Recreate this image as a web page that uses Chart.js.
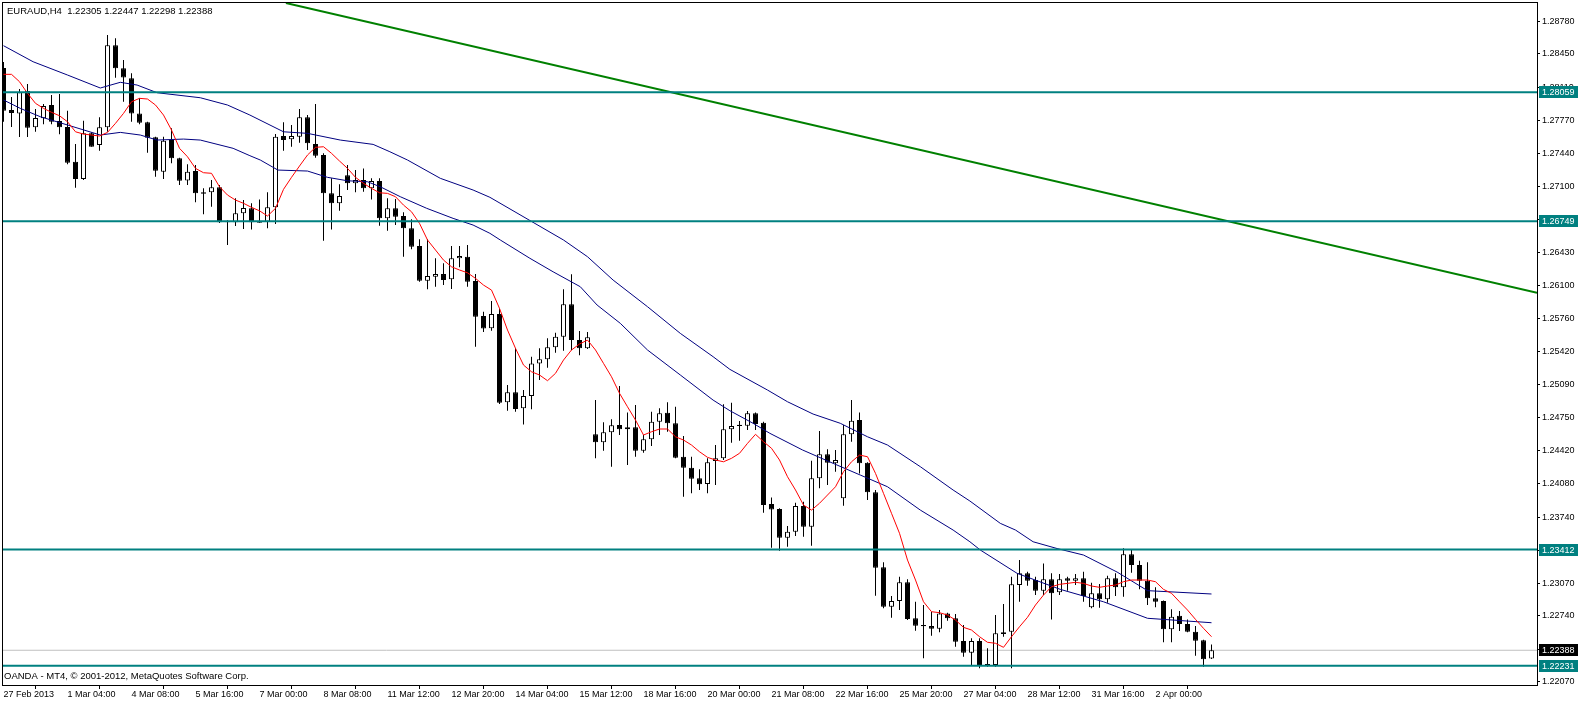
<!DOCTYPE html>
<html>
<head>
<meta charset="utf-8">
<title>EURAUD,H4</title>
<script src="https://cdn.jsdelivr.net/npm/chart.js@4.4.1/dist/chart.umd.min.js"></script>
<style>
  html, body { margin: 0; padding: 0; background: #fff; }
  canvas { display: block; }
</style>
</head>
<body>
<canvas id="euraud-chart" width="1578" height="702"></canvas>
<script>
  // H4 bars, first bar 27 Feb 2013 20:00
  const opens = [1.28306,1.27879,1.27845,1.28072,1.27703,1.27795,1.27930,1.27767,1.27706,1.27354,
    1.27178,1.27642,1.27523,1.27703,1.28537,1.28303,1.28201,1.27845,1.27754,1.27602,
    1.27252,1.27574,1.27388,1.27164,1.27259,1.27043,1.27043,1.27093,1.26751,1.26738,
    1.26829,1.26880,1.26744,1.26744,1.26890,1.27615,1.27581,1.27608,1.27805,1.27533,
    1.27422,1.27032,1.26931,1.27215,1.27134,1.27168,1.27083,1.27157,1.26778,1.26880,
    1.26802,1.26677,1.26497,1.26144,1.26185,1.26212,1.26158,1.26372,1.26388,1.26141,
    1.25785,1.25660,1.25806,1.24908,1.25010,1.24847,1.24972,1.25304,1.25345,1.25467,
    1.25575,1.25904,1.25541,1.25457,1.24583,1.24502,1.24603,1.24677,1.24634,1.24654,
    1.24416,1.24532,1.24711,1.24802,1.24695,1.24355,1.24243,1.24136,1.24078,1.24311,
    1.24339,1.24634,1.24680,1.24670,1.24796,1.24701,1.23874,1.23824,1.23532,1.23593,
    1.23854,1.23644,1.24136,1.24380,1.24288,1.23932,1.24583,1.24728,1.24294,1.23993,
    1.23231,1.22831,1.22888,1.23079,1.22713,1.22645,1.22634,1.22607,1.22763,1.22713,
    1.22482,1.22363,1.22482,1.22248,1.22238,1.22570,1.22576,1.23051,1.23170,1.23102,
    1.22993,1.23109,1.22977,1.23119,1.23095,1.23119,1.22824,1.22967,1.22906,1.23119,
    1.23028,1.23363,1.23254,1.23095,1.22916,1.22888,1.22601,1.22739,1.22655,1.22576,
    1.22489,1.22305];
  const highs = [1.28367,1.28011,1.28092,1.28143,1.27889,1.27940,1.28031,1.28042,1.27872,1.27533,
    1.27770,1.27652,1.27805,1.28641,1.28608,1.28387,1.28252,1.27998,1.27760,1.27608,
    1.27608,1.27693,1.27394,1.27327,1.27320,1.27083,1.27168,1.27117,1.26760,1.26982,
    1.26964,1.26931,1.26971,1.27043,1.27635,1.27754,1.27727,1.27889,1.27828,1.27940,
    1.27439,1.27185,1.27124,1.27320,1.27269,1.27286,1.27185,1.27185,1.26982,1.26974,
    1.26839,1.26768,1.26565,1.26565,1.26372,1.26321,1.26497,1.26497,1.26507,1.26212,
    1.25829,1.25938,1.25861,1.25084,1.25457,1.25033,1.25372,1.25457,1.25559,1.25616,
    1.26057,1.26209,1.25633,1.25623,1.24931,1.24705,1.24735,1.25074,1.24806,1.24881,
    1.24576,1.24812,1.24847,1.24908,1.24863,1.24566,1.24355,1.24227,1.24339,1.24474,
    1.24888,1.24904,1.24718,1.24820,1.24806,1.24710,1.23942,1.23831,1.23651,1.23888,
    1.23898,1.24314,1.24616,1.24430,1.24423,1.24677,1.24931,1.24806,1.24300,1.24017,
    1.23282,1.22939,1.23135,1.23109,1.22881,1.22848,1.22780,1.22797,1.22770,1.22756,
    1.22645,1.22509,1.22509,1.22408,1.22746,1.22858,1.23135,1.23305,1.23186,1.23135,
    1.23271,1.23170,1.23163,1.23135,1.23163,1.23186,1.23075,1.23061,1.23146,1.23170,
    1.23424,1.23417,1.23298,1.23282,1.23028,1.22895,1.22804,1.22787,1.22702,1.22634,
    1.22495,1.22447];
  const lows = [1.27760,1.27706,1.27605,1.27605,1.27658,1.27734,1.27734,1.27632,1.27327,1.27089,
    1.27168,1.27506,1.27465,1.27658,1.28207,1.27963,1.27760,1.27734,1.27445,1.27201,
    1.27178,1.27337,1.27117,1.27117,1.26941,1.26819,1.26896,1.26730,1.26507,1.26700,
    1.26669,1.26666,1.26734,1.26677,1.26720,1.27465,1.27506,1.27547,1.27472,1.27394,
    1.26551,1.26666,1.26855,1.27066,1.27043,1.27049,1.26971,1.26703,1.26652,1.26710,
    1.26388,1.26463,1.26134,1.26057,1.26083,1.26100,1.26060,1.26280,1.26083,1.25473,
    1.25623,1.25636,1.24891,1.24823,1.24812,1.24684,1.24837,1.25135,1.25260,1.25412,
    1.25433,1.25440,1.25386,1.25450,1.24339,1.24416,1.24254,1.24576,1.24271,1.24355,
    1.24396,1.24464,1.24576,1.24609,1.24340,1.23949,1.23983,1.24017,1.23983,1.24068,
    1.24322,1.24497,1.24518,1.24627,1.24627,1.23786,1.23430,1.23400,1.23440,1.23549,
    1.23542,1.23451,1.24034,1.24068,1.24203,1.23857,1.24508,1.24186,1.23915,1.22942,
    1.22814,1.22719,1.22797,1.22695,1.22587,1.22306,1.22536,1.22570,1.22688,1.22424,
    1.22322,1.22238,1.22204,1.22221,1.22221,1.22526,1.22204,1.22881,1.23044,1.22949,
    1.22949,1.22702,1.22949,1.22993,1.23051,1.22881,1.22814,1.22820,1.22871,1.22939,
    1.22932,1.23176,1.23007,1.22848,1.22824,1.22469,1.22469,1.22583,1.22570,1.22332,
    1.22221,1.22298];
  const closes = [1.27872,1.27849,1.28059,1.27699,1.27798,1.27920,1.27760,1.27703,1.27343,1.27178,
    1.27642,1.27506,1.27703,1.28537,1.28303,1.28211,1.27845,1.27750,1.27597,1.27262,
    1.27567,1.27388,1.27160,1.27252,1.27032,1.27028,1.27093,1.26738,1.26738,1.26829,
    1.26883,1.26738,1.26734,1.26890,1.27608,1.27574,1.27615,1.27805,1.27541,1.27415,
    1.27032,1.26931,1.27005,1.27134,1.27168,1.27083,1.27157,1.26778,1.26880,1.26795,
    1.26677,1.26490,1.26144,1.26192,1.26212,1.26151,1.26372,1.26395,1.26134,1.25778,
    1.25658,1.25806,1.24904,1.25010,1.24840,1.24972,1.25304,1.25345,1.25467,1.25575,
    1.25904,1.25541,1.25457,1.25569,1.24502,1.24603,1.24674,1.24634,1.24654,1.24416,
    1.24532,1.24711,1.24796,1.24695,1.24345,1.24243,1.24132,1.24075,1.24298,1.24339,
    1.24634,1.24667,1.24667,1.24796,1.24687,1.23864,1.23820,1.23532,1.23593,1.23854,
    1.23644,1.24136,1.24380,1.24294,1.24322,1.24583,1.24721,1.24288,1.23993,1.23227,
    1.22831,1.22888,1.23079,1.22706,1.22637,1.22631,1.22607,1.22763,1.22713,1.22475,
    1.22363,1.22482,1.22238,1.22235,1.22560,1.22553,1.23058,1.23170,1.23095,1.22993,
    1.23109,1.22967,1.23109,1.23095,1.23119,1.22939,1.22967,1.22906,1.23119,1.23028,
    1.23363,1.23254,1.23095,1.22916,1.22881,1.22601,1.22729,1.22655,1.22576,1.22485,
    1.22296,1.22388];

  // red moving average, one value per bar
  const fastMa = [1.28242,1.28242,1.28167,1.28049,1.27947,1.27896,1.27856,1.27821,1.27760,1.27658,
    1.27635,1.27625,1.27615,1.27652,1.27744,1.27845,1.27963,1.27998,1.27991,1.27930,
    1.27828,1.27676,1.27490,1.27404,1.27286,1.27242,1.27236,1.27099,1.27015,1.26964,
    1.26931,1.26890,1.26855,1.26802,1.26880,1.27073,1.27195,1.27310,1.27422,1.27500,
    1.27506,1.27439,1.27361,1.27286,1.27195,1.27134,1.27083,1.27038,1.27032,1.26998,
    1.26913,1.26845,1.26727,1.26558,1.26456,1.26354,1.26286,1.26253,1.26225,1.26168,
    1.26100,1.26049,1.25863,1.25643,1.25457,1.25287,1.25219,1.25186,1.25128,1.25203,
    1.25338,1.25440,1.25501,1.25541,1.25440,1.25304,1.25168,1.25000,1.24863,1.24728,
    1.24576,1.24609,1.24637,1.24637,1.24558,1.24525,1.24474,1.24406,1.24349,1.24322,
    1.24304,1.24339,1.24390,1.24491,1.24583,1.24508,1.24441,1.24322,1.24152,1.24017,
    1.23864,1.23813,1.23882,1.23966,1.24050,1.24203,1.24304,1.24372,1.24355,1.24186,
    1.23983,1.23780,1.23577,1.23305,1.23102,1.22881,1.22780,1.22770,1.22746,1.22695,
    1.22621,1.22594,1.22526,1.22469,1.22459,1.22418,1.22526,1.22627,1.22723,1.22848,
    1.22949,1.23034,1.23058,1.23068,1.23079,1.23068,1.23041,1.23028,1.23041,1.23051,
    1.23085,1.23102,1.23102,1.23102,1.23085,1.23007,1.22967,1.22881,1.22797,1.22702,
    1.22611,1.22526];

  // navy moving averages, read as [bar, price]
  const slowMa = [[0,1.28533],[3.7,1.28370],[8,1.28235],[12.1,1.28103],[14.6,1.28161],[16.7,1.28133],
    [19.2,1.28055],[24.6,1.28004],[28,1.27930],[30.8,1.27828],[35,1.27658],[38,1.27642],[42.1,1.27574],
    [46.2,1.27530],[48.3,1.27455],[50.5,1.27371],[54.6,1.27185],[58.7,1.27066],[60.8,1.26992],[70,1.26558],
    [73,1.26388],[76.2,1.26151],[80.5,1.25880],[84.6,1.25609],[88.7,1.25372],[90.8,1.25243],[95.5,1.25033],
    [98,1.24914],[101.2,1.24789],[104.6,1.24695],[108,1.24558],[110.5,1.24474],[114.6,1.24254],[118.7,1.24017],
    [120.8,1.23905],[124.6,1.23678],[126.5,1.23610],[128.7,1.23491],[131.7,1.23422],[135,1.23356],
    [139.2,1.23183],[143,1.22994],[151,1.22960]];
  const midMa = [[0,1.27981],[2.1,1.27896],[4.6,1.27811],[8,1.27727],[12.1,1.27625],[14.6,1.27652],
    [17.1,1.27625],[19.2,1.27574],[22.5,1.27584],[24.6,1.27574],[28.7,1.27490],[30.8,1.27415],[32.1,1.27371],
    [34.3,1.27269],[38,1.27259],[40.5,1.27195],[43,1.27160],[45.5,1.27150],[47.1,1.27099],[49.6,1.26998],
    [52.9,1.26880],[56.2,1.26778],[58.7,1.26710],[60.8,1.26626],[62.1,1.26558],[65.8,1.26372],[68.7,1.26235],
    [72.1,1.26083],[74.2,1.25897],[77.1,1.25711],[80.5,1.25440],[84.6,1.25186],[88.7,1.24931],[90.8,1.24823],
    [93.7,1.24695],[95.8,1.24593],[99.9,1.24423],[103.7,1.24288],[107.1,1.24169],[110.5,1.24050],
    [114.6,1.23813],[118.7,1.23610],[120.8,1.23491],[122.1,1.23407],[126.7,1.23170],[132.1,1.23007],
    [137.5,1.22881],[143,1.22713],[151,1.22668]];

  const levels = [1.28059, 1.26749, 1.23412, 1.22231];
  const bidPrice = 1.22388;
  const trendLine = [[35.3, 1.28967], [191.69, 1.26022]];

  const xTickLabels = ['27 Feb 2013','1 Mar 04:00','4 Mar 08:00','5 Mar 16:00','7 Mar 00:00','8 Mar 08:00',
    '11 Mar 12:00','12 Mar 20:00','14 Mar 04:00','15 Mar 12:00','18 Mar 16:00','20 Mar 00:00',
    '21 Mar 08:00','22 Mar 16:00','25 Mar 20:00','27 Mar 04:00','28 Mar 12:00','31 Mar 16:00','2 Apr 00:00'];
  const yTickValues = [1.28780,1.28450,1.28110,1.27770,1.27440,1.27100,1.26770,1.26430,1.26100,1.25760,
    1.25420,1.25090,1.24750,1.24420,1.24080,1.23740,1.23400,1.23070,1.22740,1.22400,1.22070];

  const X_MIN = -0.0625, X_MAX = 191.6875;
  const FONT = '"Liberation Sans", Arial, sans-serif';

  Chart.defaults.font.family = FONT;
  Chart.defaults.font.size = 9;
  Chart.defaults.color = '#000';

  // helpers for line datasets
  function flatLine(price) {
    return [{x: X_MIN, y: price}, {x: X_MAX, y: price}];
  }
  function lineSet(data, color, width, order) {
    return {
      type: 'line',
      data: data,
      borderColor: color,
      borderWidth: width,
      pointRadius: 0,
      tension: 0,
      fill: false,
      order: order
    };
  }

  // frame, texts and price labels on the axis
  const mt4Decor = {
    id: 'mt4Decor',
    afterDraw(chart) {
      const ctx = chart.ctx;
      const area = chart.chartArea;
      const yScale = chart.scales.y;
      ctx.save();
      ctx.strokeStyle = '#000';
      ctx.lineWidth = 1;
      ctx.strokeRect(area.left - 0.5, area.top - 0.5, area.right - area.left + 1, area.bottom - area.top + 1);

      ctx.fillStyle = '#000';
      ctx.textBaseline = 'alphabetic';
      ctx.font = '9.5px ' + FONT;
      ctx.fillText('EURAUD,H4  1.22305 1.22447 1.22298 1.22388', 7, 14);
      ctx.font = '9.5px ' + FONT;
      ctx.fillText('OANDA - MT4, \u00a9 2001-2012, MetaQuotes Software Corp.', 4, 679);

      ctx.font = '9px ' + FONT;
      ctx.textBaseline = 'middle';
      const boxes = levels.map(v => [v, '#008080']).concat([[bidPrice, '#000000']]);
      boxes.forEach(function(b) {
        const y = Math.round(yScale.getPixelForValue(b[0]));
        ctx.fillStyle = b[1];
        ctx.fillRect(area.right + 2, y - 6, 40, 12);
        ctx.fillStyle = '#fff';
        ctx.fillText(b[0].toFixed(5), area.right + 5, y + 0.5);
      });
      ctx.restore();
    }
  };

  const el = document.getElementById('euraud-chart');
  const euraudChart = new Chart(el, {
    type: 'bar',
    data: {
      datasets: [
        lineSet(flatLine(bidPrice), '#c0c0c0', 1, 9),
        {
          label: 'wicks',
          data: lows.map((l, i) => ({x: i, y: [l, highs[i]]})),
          backgroundColor: '#000',
          borderWidth: 0,
          barThickness: 1,
          grouped: false,
          inflateAmount: 0,
          order: 8
        },
        {
          label: 'bodies',
          data: opens.map((o, i) => ({x: i, y: [o, closes[i]]})),
          backgroundColor: opens.map((o, i) => closes[i] >= o ? '#ffffff' : '#000000'),
          borderColor: '#000',
          borderWidth: 1,
          borderSkipped: false,
          barThickness: 5,
          grouped: false,
          inflateAmount: 0,
          order: 7
        },
        lineSet(slowMa.map(p => ({x: p[0], y: p[1]})), '#000080', 1, 6),
        lineSet(midMa.map(p => ({x: p[0], y: p[1]})), '#000080', 1, 5),
        lineSet(fastMa.map((v, i) => ({x: i, y: v})), '#ff0000', 1, 4),
        lineSet(trendLine.map(p => ({x: p[0], y: p[1]})), '#008000', 2, 3),
        lineSet(flatLine(levels[0]), '#008080', 2, 2),
        lineSet(flatLine(levels[1]), '#008080', 2, 2),
        lineSet(flatLine(levels[2]), '#008080', 2, 2),
        lineSet(flatLine(levels[3]), '#008080', 2, 2)
      ]
    },
    options: {
      responsive: false,
      animation: false,
      devicePixelRatio: 1,
      events: [],
      layout: {
        padding: {left: 3, top: 3, right: 0, bottom: 0}
      },
      plugins: {
        legend: {display: false},
        tooltip: {enabled: false}
      },
      scales: {
        x: {
          type: 'linear',
          position: 'bottom',
          min: X_MIN,
          max: X_MAX,
          offset: false,
          border: {display: false},
          grid: {drawOnChartArea: false, drawTicks: true, tickLength: 4, color: '#000'},
          ticks: {
            autoSkip: false,
            maxRotation: 0,
            minRotation: 0,
            align: 'start',
            padding: 0,
            callback: (value, index) => xTickLabels[index]
          },
          afterBuildTicks: axis => {
            axis.ticks = xTickLabels.map((t, k) => ({value: k * 8}));
          },
          afterFit: axis => {
            axis.height = 17;
            axis.paddingLeft = 0;
            axis.paddingRight = 0;
          }
        },
        y: {
          type: 'linear',
          position: 'right',
          min: 1.22035,
          max: 1.28967,
          border: {display: false},
          grid: {drawOnChartArea: false, drawTicks: true, tickLength: 3, color: '#000'},
          ticks: {
            autoSkip: false,
            padding: 2,
            callback: value => value.toFixed(5)
          },
          afterBuildTicks: axis => {
            axis.ticks = yTickValues.map(v => ({value: v}));
          },
          afterFit: axis => {
            axis.width = 41;
            axis.paddingTop = 0;
            axis.paddingBottom = 0;
          }
        }
      }
    },
    plugins: [mt4Decor]
  });
</script>
</body>
</html>
